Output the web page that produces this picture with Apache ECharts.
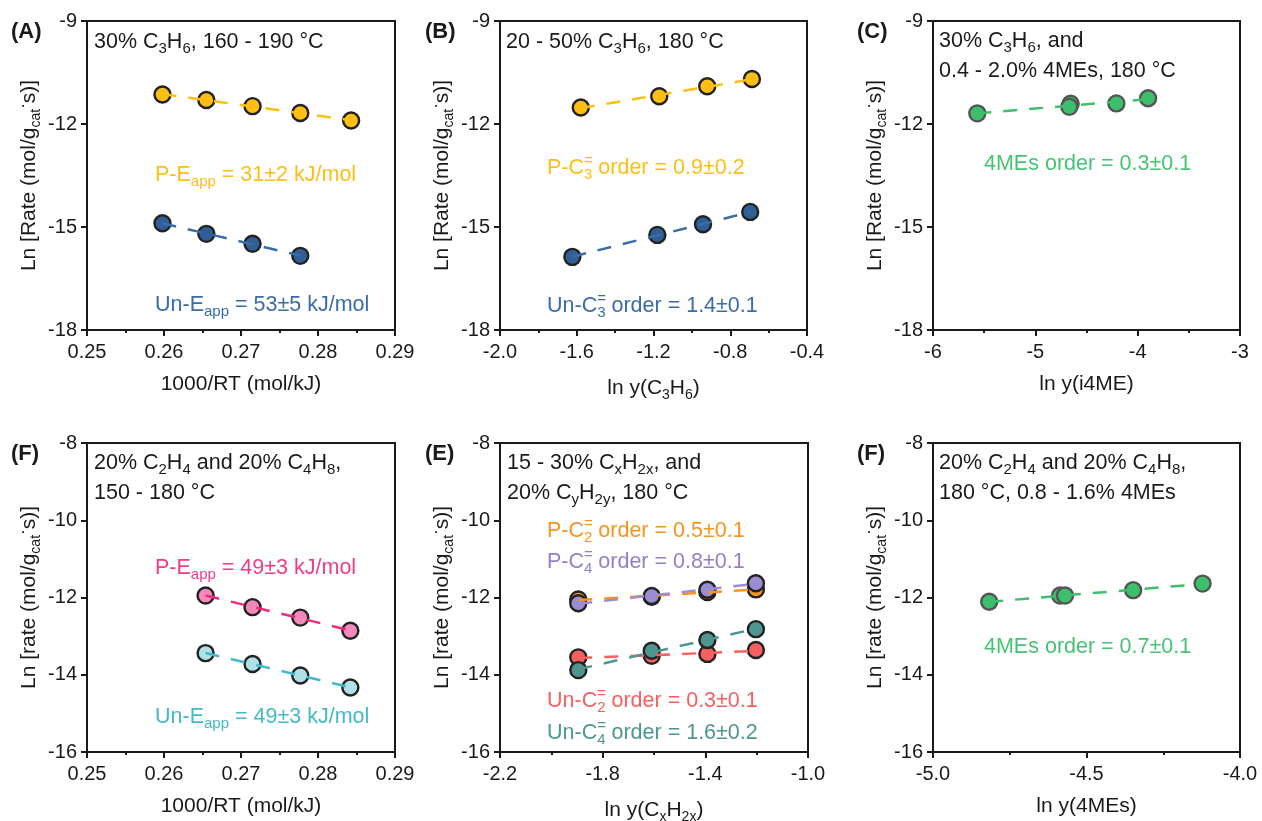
<!DOCTYPE html>
<html>
<head>
<meta charset="utf-8">
<script src="https://cdn.jsdelivr.net/npm/echarts@6/dist/echarts.min.js"></script>
<style>
  html, body { margin: 0; padding: 0; background: #fff; }
  #chart { width: 1262px; height: 821px; }
</style>
</head>
<body>
<div id="chart"></div>
<script>
// (A) Arrhenius, 30% C3H6
const aPX = [0.2598, 0.2655, 0.2715, 0.2777, 0.2843];
const aPY = [-11.14, -11.30, -11.48, -11.68, -11.90];
const aUnX = [0.2598, 0.2655, 0.2715, 0.2777];
const aUnY = [-14.89, -15.20, -15.49, -15.84];
// (B) C3H6 order
const bPX = [-1.579, -1.170, -0.920, -0.687];
const bPY = [-11.52, -11.19, -10.90, -10.69];
const bUnX = [-1.623, -1.180, -0.942, -0.696];
const bUnY = [-15.87, -15.23, -14.92, -14.56];
// (C) 4MEs order
const cX = [-5.567, -4.655, -4.668, -4.208, -3.898];
const cY = [-11.69, -11.41, -11.50, -11.40, -11.25];
// (F) Arrhenius, C2H4 + C4H8
const fX = [0.2654, 0.2715, 0.2777, 0.2842];
const fPY = [-11.95, -12.25, -12.52, -12.86];
const fUnY = [-13.44, -13.72, -14.02, -14.33];
// (E) CxH2x order
const eX = [-1.895, -1.609, -1.392, -1.203];
const eP2 = [-12.05, -11.98, -11.86, -11.79];
const eP4 = [-12.15, -11.96, -11.80, -11.63];
const eUn2 = [-13.55, -13.51, -13.46, -13.36];
const eUn4 = [-13.88, -13.38, -13.10, -12.82];
// (F) 4MEs order with C2H4 + C4H8
const gX = [-4.817, -4.586, -4.570, -4.348, -4.122];
const gY = [-12.11, -11.95, -11.95, -11.81, -11.64];

// axis ranges [min, max, interval]
const aTicks = [0.25, 0.29, 0.01];
const bTicks = [-2.0, -0.4, 0.4];
const cTicks = [-6, -3, 1];
const eMajor = [-2.2, -1.8, -1.4, -1.0];
const eMinor = [-2.0, -1.6, -1.2];
const gTicks = [-5.0, -4.0, 0.5];
const topY = [-18, -9, 3];
const botY = [-16, -8, 2];

const FF = 'Liberation Sans, Arial, sans-serif';
const INK = '#1a1a1a';

const chart = echarts.init(document.getElementById('chart'));

const grids = [
  { left: 87, top: 21, width: 308, height: 309 },
  { left: 500, top: 21, width: 307, height: 309 },
  { left: 933, top: 21, width: 307, height: 309 },
  { left: 87, top: 443, width: 308, height: 309 },
  { left: 500, top: 443, width: 308, height: 309 },
  { left: 933, top: 443, width: 307, height: 309 },
].map(g => ({ ...g, show: true, borderColor: INK, borderWidth: 2, outerBoundsMode: 'none' }));

function richSet(color, size) {
  const lh = Math.round(size * 1.35);
  return {
    s: { fontSize: Math.round(size * 0.68), fontFamily: FF, color: color, fill: color, verticalAlign: 'bottom', lineHeight: lh },
    u: { fontSize: Math.round(size * 0.68), fontFamily: FF, color: color, fill: color, verticalAlign: 'top', lineHeight: lh, width: 0 },
    d: { fontSize: Math.round(size * 0.8), fontFamily: FF, color: color, fill: color, verticalAlign: 'top', lineHeight: lh },
  };
}

function xAxis(gi, range, name, fmt, extra) {
  return Object.assign({
    type: 'value', gridIndex: gi, min: range[0], max: range[1], interval: range[2],
    name: name, nameLocation: 'middle', nameGap: 44,
    nameTextStyle: { fontSize: 21, fontFamily: FF, color: INK, rich: richSet(INK, 21) },
    axisLine: { show: true, onZero: false, lineStyle: { color: INK, width: 2 } },
    axisTick: { show: true, inside: false, length: 6, lineStyle: { color: INK, width: 2 } },
    minorTick: { show: true, splitNumber: 2, length: 3, lineStyle: { color: INK, width: 2 } },
    axisLabel: { fontSize: 20, fontFamily: FF, color: INK, margin: 12, formatter: fmt },
    splitLine: { show: false },
  }, extra || {});
}

function yAxis(gi, range, name) {
  return {
    type: 'value', gridIndex: gi, min: range[0], max: range[1], interval: range[2],
    name: name, nameLocation: 'middle', nameGap: 44,
    nameTextStyle: { fontSize: 21, fontFamily: FF, color: INK, rich: richSet(INK, 21) },
    axisLine: { show: true, onZero: false, lineStyle: { color: INK, width: 2 } },
    axisTick: { show: true, inside: false, length: 6, lineStyle: { color: INK, width: 2 } },
    axisLabel: { fontSize: 20, fontFamily: FF, color: INK, margin: 10 },
    splitLine: { show: false },
  };
}

const rateName = 'Ln [Rate (mol/g{s|cat}{d|·}s)]';
const rateName2 = 'Ln [rate (mol/g{s|cat}{d|·}s)]';

const xAxes = [
  xAxis(0, aTicks, '1000/RT (mol/kJ)', v => v.toFixed(2)),
  xAxis(1, bTicks, 'ln y(C{s|3}H{s|6})', v => v.toFixed(1)),
  xAxis(2, cTicks, 'ln y(i4ME)', v => v.toFixed(0)),
  xAxis(3, aTicks, '1000/RT (mol/kJ)', v => v.toFixed(2)),
  xAxis(4, [-2.2, -1.0, 0.2], 'ln y(C{s|x}H{s|2x})', v => v.toFixed(1), {
    minorTick: { show: false },
    axisTick: { show: true, inside: false, length: 6, customValues: eMajor, lineStyle: { color: INK, width: 2 } },
  }),
  xAxis(5, gTicks, 'ln y(4MEs)', v => v.toFixed(1)),
];
xAxes[4].axisLabel.customValues = eMajor;
// minor ticks for (E)
xAxes.push({
  type: 'value', gridIndex: 4, position: 'bottom', min: -2.2, max: -1.0, interval: 0.2,
  axisLine: { show: false, onZero: false }, axisLabel: { show: false }, splitLine: { show: false },
  axisTick: { show: true, inside: false, length: 3, customValues: eMinor, lineStyle: { color: INK, width: 2 } },
});

const yAxes = [
  yAxis(0, topY, rateName), yAxis(1, topY, rateName), yAxis(2, topY, rateName),
  yAxis(3, botY, rateName2), yAxis(4, botY, rateName2), yAxis(5, botY, rateName2),
];

function pts(xs, ys) { return xs.map((x, i) => [x, ys[i]]); }

function fit(xs, ys) {
  const n = xs.length;
  const mx = xs.reduce((a, b) => a + b, 0) / n;
  const my = ys.reduce((a, b) => a + b, 0) / n;
  let sxy = 0, sxx = 0;
  for (let i = 0; i < n; i++) { sxy += (xs[i] - mx) * (ys[i] - my); sxx += (xs[i] - mx) ** 2; }
  const k = sxy / sxx, b = my - k * mx;
  const x0 = Math.min(...xs), x1 = Math.max(...xs);
  return [[x0, k * x0 + b], [x1, k * x1 + b]];
}

function scatter(gi, xs, ys, fill, border) {
  return {
    type: 'scatter', xAxisIndex: gi, yAxisIndex: gi, z: 2, data: pts(xs, ys),
    symbolSize: 16, itemStyle: { color: fill, borderColor: border || '#222', borderWidth: 2.4, opacity: 1 },
  };
}
function fitLine(gi, xs, ys, color) {
  return {
    type: 'line', xAxisIndex: gi, yAxisIndex: gi, z: 3, data: fit(xs, ys),
    symbol: 'none', lineStyle: { color: color, width: 2.5, type: [14, 12] },
  };
}

const COL = {
  yellow: '#FDBF13', blue: '#2F5F96', blueText: '#3A6CA8',
  pinkFill: '#F588BA', pinkLine: '#EE2C7D', pinkText: '#F03C88',
  cyanFill: '#B0E1E6', cyanLine: '#42BACB', cyanText: '#45B9C8',
  green: '#3DBF6B', greenText: '#46C474',
  orange: '#F7941D', purple: '#9C8CD4', purpleText: '#9580C8', red: '#F7605E', teal: '#4F9590',
};

const series = [
  scatter(0, aPX, aPY, COL.yellow), scatter(0, aUnX, aUnY, COL.blue),
  fitLine(0, aPX, aPY, COL.yellow), fitLine(0, aUnX, aUnY, COL.blueText),
  scatter(1, bPX, bPY, COL.yellow), scatter(1, bUnX, bUnY, COL.blue),
  fitLine(1, bPX, bPY, COL.yellow), fitLine(1, bUnX, bUnY, COL.blueText),
  scatter(2, cX, cY, COL.green, '#555'), fitLine(2, cX, cY, COL.green),
  scatter(3, fX, fPY, COL.pinkFill), scatter(3, fX, fUnY, COL.cyanFill),
  fitLine(3, fX, fPY, COL.pinkLine), fitLine(3, fX, fUnY, COL.cyanLine),
  scatter(4, eX, eP2, COL.orange), scatter(4, eX, eP4, COL.purple),
  scatter(4, eX, eUn2, COL.red), scatter(4, eX, eUn4, COL.teal),
  fitLine(4, eX, eP2, COL.orange), fitLine(4, eX, eP4, COL.purple),
  fitLine(4, eX, eUn2, COL.red), fitLine(4, eX, eUn4, COL.teal),
  scatter(5, gX, gY, COL.green, '#555'), fitLine(5, gX, gY, COL.green),
];

function txt(x, y, text, color, size, bold) {
  return {
    type: 'text', x: x, y: y, z: 10,
    style: {
      text: text, fill: color, fontSize: size, fontFamily: FF, fontWeight: bold ? 'bold' : 'normal',
      verticalAlign: 'middle', align: 'left', lineHeight: Math.round(size * 1.35), rich: richSet(color, size),
    },
  };
}

const T = 21.5, L = 21.5;
const graphic = [
  txt(11, 32, '(A)', INK, 22, true), txt(425, 32, '(B)', INK, 22, true), txt(857, 32, '(C)', INK, 22, true),
  txt(11, 454, '(F)', INK, 22, true), txt(425, 454, '(E)', INK, 22, true), txt(857, 454, '(F)', INK, 22, true),

  txt(94, 42, '30% C{s|3}H{s|6}, 160 - 190 °C', INK, T),
  txt(155, 175, 'P-E{s|app} = 31±2 kJ/mol', COL.yellow, L),
  txt(155, 305, 'Un-E{s|app} = 53±5 kJ/mol', COL.blueText, L),

  txt(506, 42, '20 - 50% C{s|3}H{s|6}, 180 °C', INK, T),
  txt(547, 168, 'P-C{u|=}{s|3} order = 0.9±0.2', COL.yellow, L),
  txt(547, 306, 'Un-C{u|=}{s|3} order = 1.4±0.1', COL.blueText, L),

  txt(939, 41, '30% C{s|3}H{s|6}, and', INK, T),
  txt(939, 71, '0.4 - 2.0% 4MEs, 180 °C', INK, T),
  txt(984, 164, '4MEs order = 0.3±0.1', COL.greenText, L),

  txt(94, 463, '20% C{s|2}H{s|4} and 20% C{s|4}H{s|8},', INK, T),
  txt(94, 493, '150 - 180 °C', INK, T),
  txt(155, 568, 'P-E{s|app} = 49±3 kJ/mol', COL.pinkText, L),
  txt(155, 717, 'Un-E{s|app} = 49±3 kJ/mol', COL.cyanText, L),

  txt(507, 463, '15 - 30% C{s|x}H{s|2x}, and', INK, T),
  txt(507, 493, '20% C{s|y}H{s|2y}, 180 °C', INK, T),
  txt(547, 531, 'P-C{u|=}{s|2} order = 0.5±0.1', COL.orange, L),
  txt(547, 562, 'P-C{u|=}{s|4} order = 0.8±0.1', COL.purpleText, L),
  txt(547, 701, 'Un-C{u|=}{s|2} order = 0.3±0.1', COL.red, L),
  txt(547, 733, 'Un-C{u|=}{s|4} order = 1.6±0.2', COL.teal, L),

  txt(939, 463, '20% C{s|2}H{s|4} and 20% C{s|4}H{s|8},', INK, T),
  txt(939, 493, '180 °C, 0.8 - 1.6% 4MEs', INK, T),
  txt(984, 647, '4MEs order = 0.7±0.1', COL.greenText, L),
];

chart.setOption({
  animation: false,
  backgroundColor: '#fff',
  textStyle: { fontFamily: FF },
  grid: grids,
  xAxis: xAxes,
  yAxis: yAxes,
  series: series,
  graphic: graphic,
});
</script>
</body>
</html>
